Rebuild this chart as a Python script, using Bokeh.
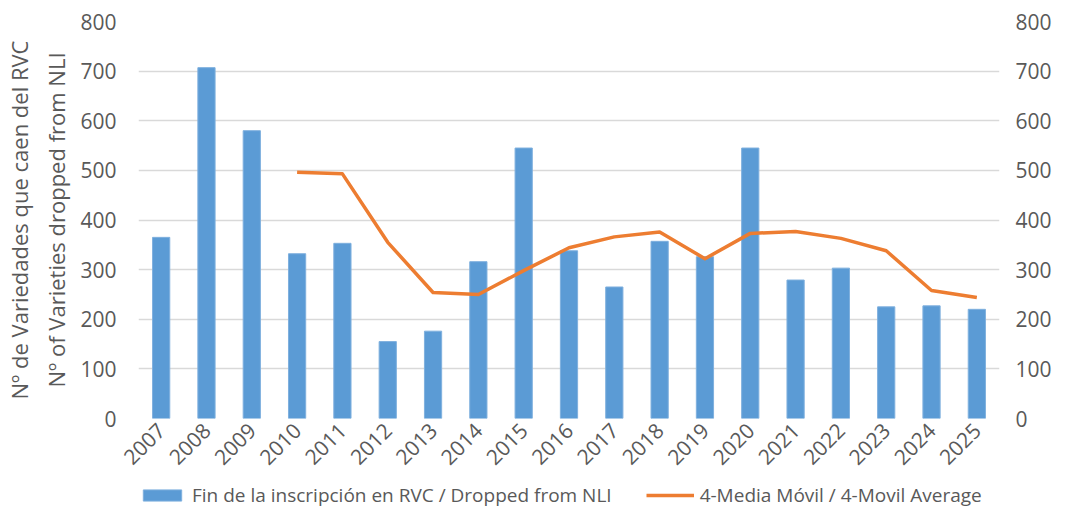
import math
from bokeh.plotting import figure
from bokeh.layouts import column
from bokeh.models import (Range1d, FactorRange, LinearAxis, SingleIntervalTicker,
                          Legend, LegendItem, ColumnDataSource)
from bokeh.embed import file_html
from bokeh.resources import INLINE

years = [str(y) for y in range(2007, 2026)]
dropped = [365, 707, 580, 332, 353, 155, 176, 316, 545, 338,
           265, 357, 326, 545, 279, 303, 225, 227, 220]
ma_years = [str(y) for y in range(2010, 2026)]
moving_avg = [496, 493, 355, 254, 250, 298, 344, 366, 376, 322,
              373, 377, 363, 338, 258, 244]
legend_labels = ["Fin de la inscripción en RVC / Dropped from NLI",
                 "4-Media Móvil / 4-Movil Average"]

FONT = "Open Sans"
GREY = "#595959"
BLUE = "#5B9BD5"
ORANGE = "#ED7D31"

p = figure(width=1054, height=478, x_range=FactorRange(*years, range_padding=0),
           y_range=Range1d(0, 800), output_backend="svg", toolbar_location=None,
           min_border_left=135, min_border_right=49, min_border_top=21,
           min_border_bottom=60)
p.outline_line_color = None
p.background_fill_color = "white"
p.border_fill_color = "white"

src = ColumnDataSource(dict(x=years, y=dropped))
bars = p.vbar(x="x", top="y", width=0.38, source=src, fill_color=BLUE,
              line_color="#7FB0DE", line_width=1)
lsrc = ColumnDataSource(dict(x=ma_years, y=moving_avg))
line = p.line(x="x", y="y", source=lsrc, line_color=ORANGE, line_width=3.5,
              line_join="round")

p.extra_y_ranges = {"right": Range1d(0, 800)}
ax_r = LinearAxis(y_range_name="right", ticker=SingleIntervalTicker(interval=100))
p.add_layout(ax_r, "right")

p.yaxis[0].ticker = SingleIntervalTicker(interval=100)
for ax in p.axis:
    ax.axis_line_color = None
    ax.major_tick_line_color = None
    ax.minor_tick_line_color = None
    ax.major_tick_out = 0
    ax.major_tick_in = 0
    ax.minor_tick_out = 0
    ax.minor_tick_in = 0
    ax.major_label_text_font = FONT
    ax.major_label_text_font_size = "21px"
    ax.major_label_text_color = GREY
p.yaxis[0].major_label_standoff = 22
ax_r.major_label_standoff = 16

p.yaxis[0].axis_label = "Nº de Variedades que caen del RVC\nNº of Varieties dropped from NLI"
p.yaxis[0].axis_label_text_font = FONT
p.yaxis[0].axis_label_text_font_size = "22px"
p.yaxis[0].axis_label_text_font_style = "normal"
p.yaxis[0].axis_label_text_color = GREY
p.yaxis[0].axis_label_text_line_height = 1.25
p.yaxis[0].axis_label_standoff = 6

xa = p.xaxis[0]
xa.major_label_orientation = math.pi / 4
xa.major_label_standoff = 8

p.xgrid.grid_line_color = None
p.ygrid.grid_line_color = "#D9D9D9"
p.ygrid.grid_line_width = 1.5
p.ygrid.ticker = SingleIntervalTicker(interval=100)

# legend strip below the chart (its frame is aligned with the chart's frame)
lf = figure(width=1054, height=30, x_range=Range1d(0, 1), y_range=Range1d(0, 1),
            output_backend="svg", toolbar_location=None, min_border=0,
            min_border_left=135, min_border_right=49)
lf.outline_line_color = None
lf.axis.visible = False
lf.grid.visible = False
lb = lf.vbar(x=[-5], top=[-5], width=0.38, fill_color=BLUE, line_color="#7FB0DE")
ll = lf.line(x=[-6, -5], y=[-6, -5], line_color=ORANGE, line_width=3.5)

legend = Legend(items=[
    LegendItem(label=legend_labels[0], renderers=[lb]),
    LegendItem(label=legend_labels[1], renderers=[ll]),
], orientation="horizontal", location=(0, 0))
legend.label_text_font = FONT
legend.label_text_font_size = "19px"
legend.label_text_color = GREY
legend.glyph_width = 48
legend.glyph_height = 14
legend.label_standoff = 6
legend.spacing = 34
legend.padding = 0
legend.margin = 0
legend.border_line_color = None
legend.background_fill_alpha = 0
lf.add_layout(legend, "center")

layout = column(p, lf, spacing=0)
open("out.html", "w").write(file_html(layout, INLINE))
